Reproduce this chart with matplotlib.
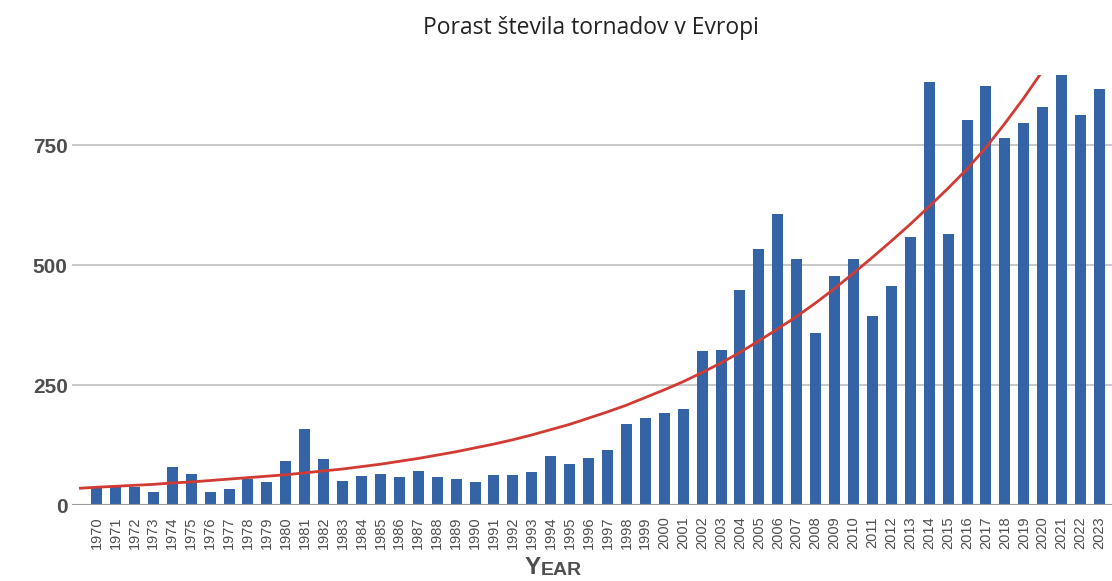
import numpy as np
import matplotlib.pyplot as plt

years = list(range(1970, 2024))
tornadoes = [35, 40, 37, 27, 79, 65, 27, 33, 54, 48,
             92, 158, 96, 50, 60, 65, 58, 71, 58, 54,
             48, 63, 63, 69, 102, 85, 98, 115, 169, 181,
             192, 200, 320, 323, 448, 533, 606, 512, 358, 477,
             512, 394, 456, 558, 882, 565, 802, 874, 765, 796,
             829, 905, 812, 866]

# exponential trend line as drawn in the chart
trend_years = [1969.15] + list(range(1970, 2021))
trend = [35, 37, 39, 41, 43, 46, 48, 51, 54, 57, 60,
         63, 67, 71, 75, 80, 85, 91, 97, 104, 111,
         119, 127, 136, 146, 157, 168, 181, 194, 208, 224,
         240, 257, 276, 296, 318, 342, 367, 393, 421, 451,
         483, 516, 550, 585, 622, 660, 700, 745, 795, 848,
         905]

bar_color = '#3564a6'
line_color = '#d23b33'
text_color = '#4e4e4e'

x = np.arange(len(years))
xt = np.array(trend_years) - years[0]

plt.rcParams['font.family'] = ['Liberation Sans', 'DejaVu Sans']

fig = plt.figure(figsize=(11.12, 5.81), dpi=100)
ax = fig.add_axes([0.0647, 0.1308, 0.9353, 0.7402])

ax.bar(x, tornadoes, width=0.58, color=bar_color, zorder=2)
ax.plot(xt, trend, color=line_color, lw=2, zorder=3)

ax.set_xlim(-1.3, 53.66)
ax.set_ylim(0, 896)
ax.set_yticks([0, 250, 500, 750])
ax.set_yticklabels(['0', '250', '500', '750'], fontsize=15, fontweight='bold', color=text_color)
ax.set_xticks(x)
ax.set_xticklabels([str(v) for v in years], rotation=90, fontsize=10.5, color=text_color)
ax.tick_params(axis='both', length=0)
ax.tick_params(axis='y', pad=3)
ax.tick_params(axis='x', pad=8)

for v in [250, 500, 750]:
    ax.axhline(v, color='#c4c4c4', lw=1.3, zorder=1)
ax.axhline(0, color='#9a9a9a', lw=1.5, zorder=4)
for s in ax.spines.values():
    s.set_visible(False)

fig.text(0.5315, 0.952, 'Porast števila tornadov v Evropi', ha='center', va='center',
         fontsize=16.5, family=['Open Sans', 'DejaVu Sans'], color='#222222')

# small-caps style axis title
fig.text(0.4865, 0.003, 'Y', ha='right', va='bottom', fontsize=17.5, fontweight='bold', color=text_color)
fig.text(0.4865, 0.003, 'EAR', ha='left', va='bottom', fontsize=14, fontweight='bold', color=text_color)

fig.savefig('out.png', dpi=100)
